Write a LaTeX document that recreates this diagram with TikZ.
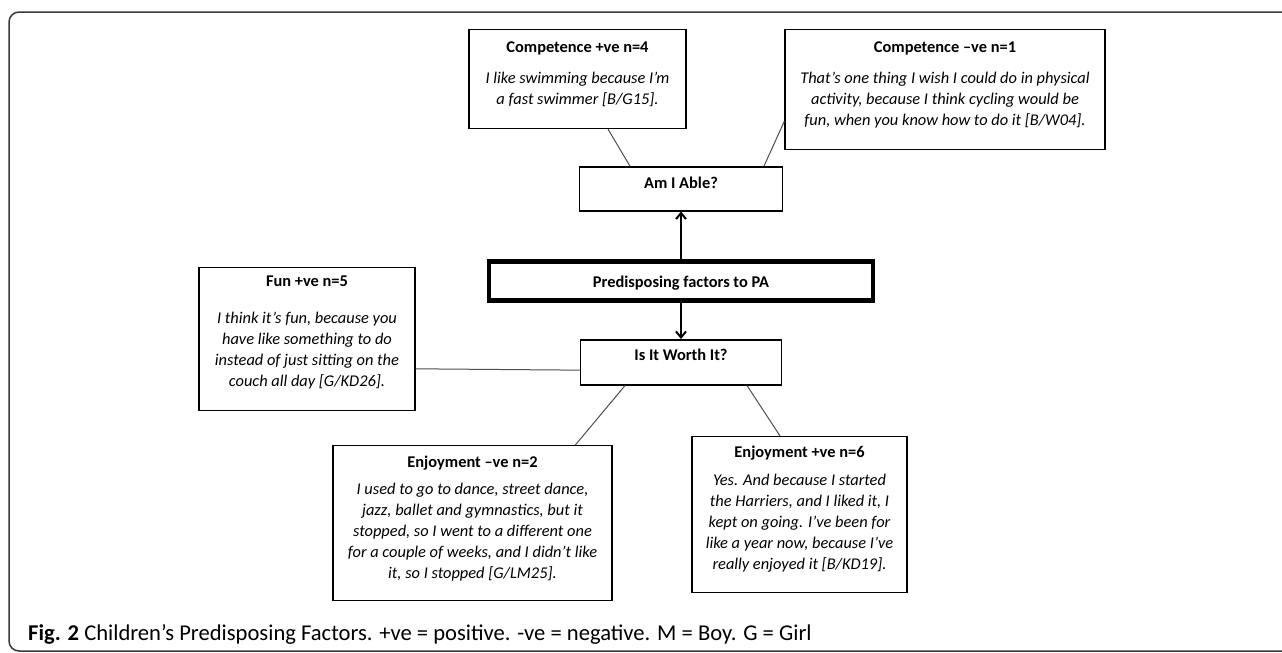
\documentclass[tikz,border=0pt]{standalone}
\usepackage{fontspec}
\setmainfont{Carlito}
\usetikzlibrary{calc,arrows.meta}
\definecolor{frameGray}{HTML}{3a3a3a}
\definecolor{linkGray}{HTML}{4d4d4d}

\begin{document}
\begin{tikzpicture}[x=1pt, y=-1pt,
    qbox/.style={draw, line width=1.2pt, inner sep=0pt, anchor=north, font=\fontsize{16.4}{21}\selectfont\bfseries},
    quote/.style={align=center, inner sep=0pt, font=\fontsize{16.4}{21}\selectfont\itshape},
    tag/.style={draw, line width=1.5pt, inner sep=0pt, anchor=north, font=\fontsize{16.4}{21}\selectfont\bfseries},
    link/.style={linkGray, line width=1pt},
    up/.style={-{Straight Barb[length=6pt,width=10pt]}, line width=2pt}]
                \useasboundingbox (0,0) rectangle (1282,653);
                \draw[frameGray, line width=1.5pt, rounded corners=10pt] (9,12) rectangle (1300,651);

                % competence
                \node[qbox, minimum width=217, text height=23, text depth=76] (compPos) at (577.5,29) {Competence +ve n=4};
                \node[quote] (compPosTxt) at (577.5,89.5) {I like swimming because I'm\\a fast swimmer [B/G15].};
                \node[qbox, minimum width=320, text height=23, text depth=97] (compNeg) at (945,29) {Competence –ve n=1};
                \node[quote] (compNegTxt) at (945,100) {That's one thing I wish I could do in physical\\activity, because I think cycling would be\\fun, when you know how to do it [B/W04].};

                % centre column
                \node[tag, minimum width=203, text height=21.3, text depth=22.7] (able) at (681,166) {Am I Able?};
                \node[tag, line width=4.5pt, minimum width=384, text height=26, text depth=13] (pred) at (681,259) {Predisposing factors to PA};
                \node[tag, minimum width=201, text height=21, text depth=24] (worth) at (681,339) {Is It Worth It?};

                % fun and enjoyment
                \node[qbox, minimum width=216, text height=19, text depth=124] (fun) at (307,267) {Fun +ve n=5};
                \node[quote] (funTxt) at (307,350.5) {I think it's fun, because you\\have like something to do\\instead of just sitting on the\\couch all day [G/KD26].};
                \node[qbox, minimum width=279, text height=22, text depth=133] (enjNeg) at (472.5,445) {Enjoyment –ve n=2};
                \node[quote] (enjNegTxt) at (472.5,532) {I used to go to dance, street dance,\\jazz, ballet and gymnastics, but it\\stopped, so I went to a different one\\for a couple of weeks, and I didn't like\\it, so I stopped [G/LM25].};
                \node[qbox, minimum width=215, text height=21, text depth=135] (enjPos) at (799.5,436) {Enjoyment +ve n=6};
                \node[quote] (enjPosTxt) at (799.5,523) {Yes. And because I started\\the Harriers, and I liked it, I\\kept on going. I've been for\\like a year now, because I've\\really enjoyed it [B/KD19].};

                \draw[link] ($(compPos.south west)!0.64!(compPos.south east)$) -- ($(able.north west)!0.25!(able.north east)$);
                \draw[link] ($(able.north west)!0.906!(able.north east)$) -- ($(compNeg.north west)!0.76!(compNeg.south west)$);
                \draw[up] (pred.north) -- (pred.north |- able.south);
                \draw[up] (pred.south) -- (pred.south |- worth.north);
                \draw[link] ($(fun.north east)!0.706!(fun.south east)$) -- ($(worth.north west)!0.67!(worth.south west)$);
                \draw[link] ($(worth.south west)!0.224!(worth.south east)$) -- ($(enjNeg.north west)!0.867!(enjNeg.north east)$);
                \draw[link] ($(worth.south west)!0.826!(worth.south east)$) -- ($(enjPos.north west)!0.41!(enjPos.north east)$);

                \node[anchor=west, inner sep=0pt, font=\fontsize{22.6}{24}\selectfont] (caption) at (28,634) {\textbf{Fig. 2} Children’s Predisposing Factors. +ve = positive. -ve = negative. M = Boy. G = Girl};
\end{tikzpicture}
\end{document}
